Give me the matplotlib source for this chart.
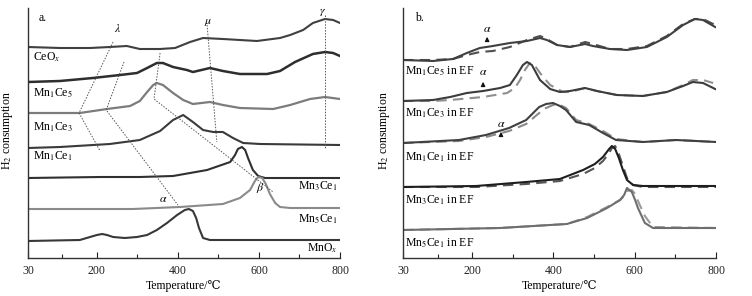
import numpy as np
import matplotlib
matplotlib.use("Agg")
import matplotlib.pyplot as plt

plt.rcParams['font.family'] = ['Liberation Serif', 'DejaVu Serif']
plt.rcParams['mathtext.fontset'] = 'stix'
plt.rcParams['font.size'] = 8.5
plt.rcParams['lines.solid_joinstyle'] = 'round'
plt.rcParams['lines.dash_joinstyle'] = 'round'

## Panel a: TPR curves (temperature in C, signal in arbitrary offset units)
a_ceox_T = [30, 109, 183, 232, 274, 306, 356, 393, 430, 462, 511, 595, 652, 677, 709, 733, 763, 783, 800]
a_ceox_h = [211, 210, 210, 211, 212, 209, 209, 210, 216, 220, 219, 217, 220, 223, 228, 235, 239, 238, 235]

a_mn1ce5_T = [30, 109, 190, 257, 299, 324, 348, 363, 388, 422, 437, 479, 511, 553, 620, 652, 689, 733, 763, 783, 800]
a_mn1ce5_h = [176, 177, 180, 183, 185, 190, 195, 195, 191, 188, 186, 190, 187, 184, 184, 187, 196, 204, 206, 205, 202]

a_mn1ce3_T = [30, 158, 225, 282, 306, 324, 339, 348, 363, 388, 413, 437, 479, 511, 553, 635, 677, 726, 763, 800]
a_mn1ce3_h = [145, 145, 149, 152, 157, 166, 173, 175, 173, 165, 158, 154, 156, 153, 150, 149, 153, 159, 161, 159]

a_mn1ce1_T = [30, 109, 232, 306, 356, 388, 413, 437, 462, 487, 511, 536, 561, 603, 800]
a_mn1ce1_h = [110, 111, 114, 118, 127, 138, 143, 136, 128, 126, 126, 120, 115, 114, 113]

a_mn3ce1_T = [30, 208, 306, 388, 472, 529, 541, 548, 558, 566, 573, 585, 598, 615, 800]
a_mn3ce1_h = [80, 81, 81, 82, 88, 96, 103, 109, 111, 108, 100, 88, 82, 80, 80]

a_mn5ce1_T = [30, 289, 405, 511, 553, 578, 590, 598, 608, 617, 627, 640, 652, 677, 800]
a_mn5ce1_h = [49, 49, 51, 54, 60, 68, 77, 81, 80, 74, 64, 55, 51, 50, 50]

a_mnox_T = [30, 158, 183, 200, 213, 225, 240, 269, 299, 324, 348, 373, 398, 417, 427, 437, 445, 452, 462, 479, 800]
a_mnox_h = [17, 18, 21, 23, 24, 23, 21, 20, 21, 23, 28, 35, 43, 48, 49, 47, 40, 30, 20, 18, 18]

# dotted guide lines in panel a
guide_lam1_T, guide_lam1_h = [240, 156, 208], [216, 145, 107]
guide_lam2_T, guide_lam2_h = [267, 223, 400], [196, 148, 53]
guide_beta_T, guide_beta_h = [356, 341, 635], [205, 159, 66]
guide_mu_T, guide_mu_h = [472, 496], [233, 116]
guide_gam_T, guide_gam_h = [763, 763], [243, 110]

## Panel b: in EF (solid) vs reference (dashed)
b1_T = [30, 104, 153, 187, 219, 251, 293, 335, 367, 384, 409, 441, 478, 497, 539, 581, 630, 679, 719, 748, 768, 798]
b1_solid = [198, 197, 199, 205, 210, 212, 215, 217, 220, 218, 213, 211, 214, 212, 209, 208, 211, 221, 233, 239, 238, 231]
b1_dash = [198, 198, 199, 203, 206, 207, 211, 218, 222, 219, 213, 211, 216, 214, 209, 209, 212, 222, 234, 239, 239, 233]

b2_T = [30, 104, 146, 187, 227, 269, 293, 310, 325, 335, 347, 367, 392, 416, 441, 478, 507, 556, 620, 679, 719, 743, 768, 798]
b2_solid = [157, 158, 161, 165, 167, 170, 173, 183, 193, 196, 193, 178, 169, 166, 167, 170, 167, 163, 162, 166, 172, 176, 175, 169]
b2d_T = [30, 104, 146, 227, 286, 305, 318, 330, 342, 355, 367, 379, 392, 424, 441, 478, 507, 556, 620, 679, 719, 743, 768, 793]
b2_dash = [157, 157, 158, 161, 165, 170, 178, 188, 195, 192, 185, 179, 173, 166, 166, 170, 167, 163, 162, 166, 173, 178, 178, 175]

b3_T = [30, 168, 234, 291, 333, 365, 382, 399, 416, 431, 456, 488, 522, 554, 620, 702, 800]
b3_solid = [115, 118, 123, 130, 138, 151, 154, 155, 152, 148, 136, 133, 125, 118, 116, 118, 116]
b3_dash = [115, 117, 121, 127, 134, 145, 150, 153, 153, 150, 138, 134, 127, 119, 116, 118, 116]

b4_T = [30, 210, 333, 416, 473, 502, 522, 537, 544, 552, 561, 571, 581, 596, 620, 800]
b4_solid = [71, 72, 76, 79, 88, 94, 101, 109, 112, 109, 100, 88, 78, 73, 72, 72]
b4_dash = [71, 71, 74, 77, 84, 90, 97, 105, 110, 112, 104, 92, 80, 73, 71, 71]

b5_T = [30, 269, 433, 483, 532, 564, 574, 581, 593, 601, 608, 625, 645, 798]
b5_solid = [28, 30, 34, 40, 50, 58, 63, 70, 66, 58, 50, 35, 30, 30]
b5_dash = [28, 30, 34, 41, 51, 58, 62, 67, 68, 64, 57, 42, 31, 30]

xticks_major = [30, 200, 400, 600, 800]
xticks_minor = [115, 300, 500, 700]

fig = plt.figure(figsize=(7.52, 2.96), dpi=100)
axa = fig.add_axes([28/752, 1-258/296, 312/752, 250/296])
axb = fig.add_axes([403/752, 1-258/296, 313/752, 250/296])

def style(ax, ylab_x):
    ax.set_xlim(30, 800)
    ax.set_ylim(0, 250)
    for s in ['top', 'right']:
        ax.spines[s].set_visible(False)
    for s in ['left', 'bottom']:
        ax.spines[s].set_color('#333333')
        ax.spines[s].set_linewidth(1.0)
    ax.set_yticks([])
    ax.set_xticks(xticks_major)
    ax.set_xticks(xticks_minor, minor=True)
    ax.tick_params(axis='x', which='major', direction='in', length=4, width=0.8, pad=5, colors='#222222')
    ax.tick_params(axis='x', which='minor', direction='in', length=3, width=0.8, colors='#222222')
    ax.set_xlabel('Temperature/℃', labelpad=2)
    ax.set_ylabel('H$_2$ consumption')
    ax.yaxis.set_label_coords(ylab_x, 0.51)

style(axa, -0.043)
style(axb, -0.036)

# panel a curves
axa.plot(a_ceox_T, a_ceox_h, color='#404040', lw=1.5)
axa.plot(a_mn1ce5_T, a_mn1ce5_h, color='#2e2e2e', lw=1.8)
axa.plot(a_mn1ce3_T, a_mn1ce3_h, color='#7c7c7c', lw=1.6)
axa.plot(a_mn1ce1_T, a_mn1ce1_h, color='#3a3a3a', lw=1.5)
axa.plot(a_mn3ce1_T, a_mn3ce1_h, color='#303030', lw=1.5)
axa.plot(a_mn5ce1_T, a_mn5ce1_h, color='#8a8a8a', lw=1.5)
axa.plot(a_mnox_T, a_mnox_h, color='#383838', lw=1.5)

gkw = dict(color='#555555', lw=0.7, ls=(0, (1.5, 1.5)))
for gT, gh in [(guide_lam1_T, guide_lam1_h), (guide_lam2_T, guide_lam2_h),
               (guide_beta_T, guide_beta_h), (guide_mu_T, guide_mu_h),
               (guide_gam_T, guide_gam_h)]:
    axa.plot(gT, gh, **gkw)

axa.text(252, 229, r'$\lambda$', ha='center', va='center')
axa.text(474, 236, r'$\mu$', ha='center', va='center')
axa.text(758, 246, r'$\gamma$', ha='center', va='center')
axa.text(363, 59, r'$\alpha$', ha='center', va='center')
axa.text(603, 70, r'$\beta$', ha='center', va='center')
axa.text(55, 240, 'a.', ha='left', va='center')

axa.text(42, 201, 'CeO$_x$', ha='left', va='center')
axa.text(42, 165, 'Mn$_1$Ce$_5$', ha='left', va='center')
axa.text(42, 131, 'Mn$_1$Ce$_3$', ha='left', va='center')
axa.text(42, 102, 'Mn$_1$Ce$_1$', ha='left', va='center')
axa.text(795, 72, 'Mn$_3$Ce$_1$', ha='right', va='center')
axa.text(795, 39, 'Mn$_5$Ce$_1$', ha='right', va='center')
axa.text(795, 10, 'MnO$_x$', ha='right', va='center')

# panel b curves
dash = (0, (5, 3))
axb.plot(b1_T, b1_dash, color='#505050', lw=1.5, ls=dash)
axb.plot(b1_T, b1_solid, color='#404040', lw=1.5)
axb.plot(b2d_T, b2_dash, color='#8f8f8f', lw=1.5, ls=dash)
axb.plot(b2_T, b2_solid, color='#3c3c3c', lw=1.5)
axb.plot(b3_T, b3_dash, color='#8a8a8a', lw=1.5, ls=dash)
axb.plot(b3_T, b3_solid, color='#404040', lw=1.5)
axb.plot(b4_T, b4_dash, color='#555555', lw=1.5, ls=dash)
axb.plot(b4_T, b4_solid, color='#1e1e1e', lw=1.5)
axb.plot(b5_T, b5_dash, color='#9a9a9a', lw=1.5, ls=dash)
axb.plot(b5_T, b5_solid, color='#6e6e6e', lw=1.5)

axb.text(60, 240, 'b.', ha='left', va='center')
axb.text(35, 187, 'Mn$_1$Ce$_5$ in EF', ha='left', va='center')
axb.text(35, 145, 'Mn$_1$Ce$_3$ in EF', ha='left', va='center')
axb.text(35, 101, 'Mn$_1$Ce$_1$ in EF', ha='left', va='center')
axb.text(35, 58, 'Mn$_3$Ce$_1$ in EF', ha='left', va='center')
axb.text(35, 15, 'Mn$_5$Ce$_1$ in EF', ha='left', va='center')

alpha_T = [237, 227, 271]
alpha_h = [229, 186, 134]
arrow_lo = [215, 170, 120]
arrow_hi = [224, 179, 129]
for t, h, lo, hi in zip(alpha_T, alpha_h, arrow_lo, arrow_hi):
    axb.text(t, h, r'$\alpha$', ha='center', va='center')
    axb.annotate('', xy=(t, hi), xytext=(t, lo),
                 arrowprops=dict(arrowstyle='-|>', color='#111111', lw=0.9, mutation_scale=6))

fig.savefig('out.png', dpi=100)
